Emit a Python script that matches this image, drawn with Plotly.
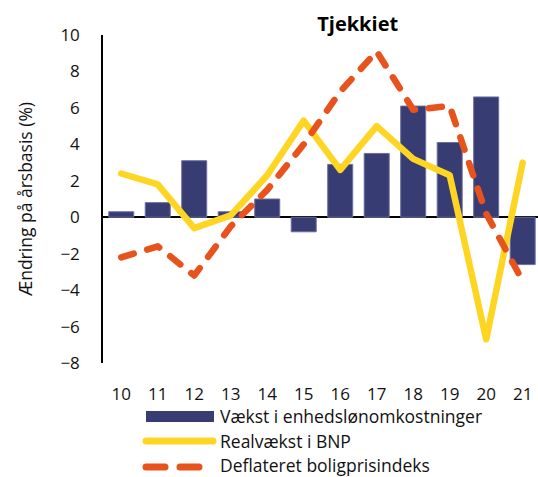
import plotly.graph_objects as go

# ---------------- data ----------------
years = ["10", "11", "12", "13", "14", "15", "16", "17", "18", "19", "20", "21"]
ulc_growth = [0.3, 0.8, 3.1, 0.3, 1.0, -0.8, 2.9, 3.5, 6.1, 4.1, 6.6, -2.6]
real_gdp = [2.4, 1.8, -0.6, 0.1, 2.3, 5.3, 2.6, 5.0, 3.2, 2.3, -6.7, 3.0]
house_prices = [-2.2, -1.6, -3.2, -0.5, 1.5, 4.0, 6.9, 9.1, 5.9, 6.1, 0.2, -3.5]
y_ticks = [-8, -6, -4, -2, 0, 2, 4, 6, 8, 10]
series_names = ["Vækst i enhedslønomkostninger", "Realvækst i BNP", "Deflateret boligprisindeks"]
title_text = "Tjekkiet"
y_title = "Ændring på årsbasis (%)"

# ---------------- style ----------------
NAVY = "#373C73"
YELLOW = "#FFD524"
ORANGE = "#E8531D"
FONT = "Open Sans"
W, H = 538, 477
L, R, T, B = 103, 0, 35, 114
PW, PH = W - L - R, H - T - B


def px_x(px):
    return (px - L) / PW


def px_y(py):
    return (H - B - py) / PH


fig = go.Figure()
fig.add_trace(go.Bar(x=years, y=ulc_growth, name=series_names[0],
                     marker=dict(color=NAVY, line=dict(color="#6A6FA0", width=1)),
                     showlegend=False))
fig.add_trace(go.Scatter(x=years, y=real_gdp, name=series_names[1], mode="lines",
                         line=dict(color=YELLOW, width=6.5), showlegend=False))
fig.add_trace(go.Scatter(x=years, y=house_prices, name=series_names[2], mode="lines",
                         line=dict(color=ORANGE, width=6.5, dash="13px,14px"),
                         showlegend=False))

# custom legend (wide symbols as in the reference)
shapes = [
    dict(type="rect", xref="paper", yref="paper",
         x0=px_x(146), x1=px_x(214), y0=px_y(422), y1=px_y(411),
         fillcolor=NAVY, line=dict(width=0)),
    dict(type="line", xref="paper", yref="paper",
         x0=px_x(146), x1=px_x(213), y0=px_y(441), y1=px_y(441),
         line=dict(color=YELLOW, width=7)),
    dict(type="line", xref="paper", yref="paper",
         x0=px_x(146), x1=px_x(213), y0=px_y(467), y1=px_y(467),
         line=dict(color=ORANGE, width=7, dash="19px,15px")),
]
annotations = []
for name, yc in zip(series_names, [416, 441, 465]):
    annotations.append(dict(text=name, xref="paper", yref="paper",
                            x=px_x(219), y=px_y(yc), xanchor="left", yanchor="middle",
                            showarrow=False, borderpad=0,
                            font=dict(size=17.5, color="#111111", family=FONT)))

fig.update_layout(
    width=W, height=H, autosize=False,
    margin=dict(l=L, r=R, t=T, b=B, pad=0),
    paper_bgcolor="white", plot_bgcolor="white",
    font=dict(family=FONT, size=17, color="#111111"),
    title=dict(text="<b>" + title_text + "</b>", x=315 / W, xref="paper", xanchor="center",
               y=1 - 24 / H, yref="container", yanchor="middle",
               font=dict(size=20, color="#000000", family=FONT)),
    bargap=0.315,
    shapes=shapes,
    annotations=annotations,
    showlegend=False,
    xaxis=dict(type="category", range=[-0.5, 11.42], showline=False, showgrid=False,
               zeroline=False, ticks="", ticklabelstandoff=19,
               tickfont=dict(size=17, color="#111111")),
    yaxis=dict(range=[-8, 10], tickvals=y_ticks, showline=True, linecolor="black",
               linewidth=1.5, showgrid=False, zeroline=True, zerolinecolor="black",
               zerolinewidth=1.5, ticks="", ticklabelstandoff=18,
               tickfont=dict(size=17, color="#111111"),
               layer="above traces",
               title=dict(text=y_title, standoff=23, font=dict(size=17.5, color="#111111"))),
)

post = ("document.body.style.margin='0';"
        "document.documentElement.style.overflow='hidden';"
        "var s=document.createElement('style');"
        "s.innerHTML='body{margin:0 !important;} .js-line, .shapelayer path{stroke-linecap:round !important;"
        "stroke-linejoin:round !important;}';document.head.appendChild(s);")
fig.write_html("out.html", post_script=post, config={"displayModeBar": False})
